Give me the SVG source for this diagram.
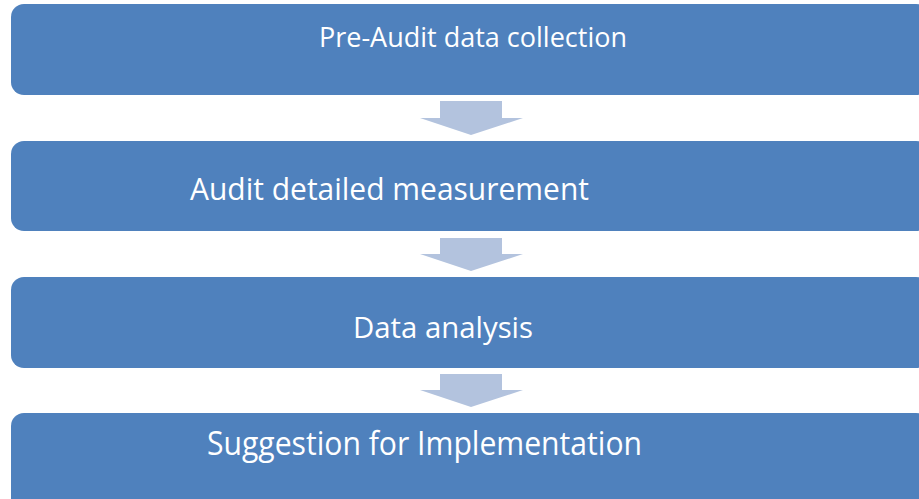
<svg xmlns="http://www.w3.org/2000/svg" width="919" height="499" viewBox="0 0 919 499">
<style>
.box{fill:#4f81bd;}
.lbl{fill:#ffffff;font-family:"Open Sans","Liberation Sans",sans-serif;}
.arr{fill:#b3c3de;}
</style>
<rect x="0" y="0" width="919" height="499" fill="#ffffff"/>
<g id="connectors">
<polygon class="arr" points="440,101 502,101 502,118 523,118 471,135 420,118 440,118"/>
<polygon class="arr" points="440,238 502,238 502,254 523,254 471,271 420,254 440,254"/>
<polygon class="arr" points="440,374 502,374 502,390 523,390 471,407 420,390 440,390"/>
</g>
<g id="node1">
<rect class="box" x="11" y="4" width="918" height="91" rx="13"/>
<text class="lbl" x="319" y="46.5" font-size="28" textLength="308" lengthAdjust="spacingAndGlyphs">Pre-Audit data collection</text>
</g>
<g id="node2">
<rect class="box" x="11" y="141" width="918" height="90" rx="13"/>
<text class="lbl" x="190" y="200" font-size="30.5" textLength="399" lengthAdjust="spacingAndGlyphs">Audit detailed measurement</text>
</g>
<g id="node3">
<rect class="box" x="11" y="277" width="918" height="91" rx="13"/>
<text class="lbl" x="353" y="337.5" font-size="29.5" textLength="180" lengthAdjust="spacingAndGlyphs">Data analysis</text>
</g>
<g id="node4">
<rect class="box" x="11" y="413" width="918" height="100" rx="13"/>
<text class="lbl" x="207" y="455" font-size="33" textLength="435" lengthAdjust="spacingAndGlyphs">Suggestion for Implementation</text>
</g>
</svg>
